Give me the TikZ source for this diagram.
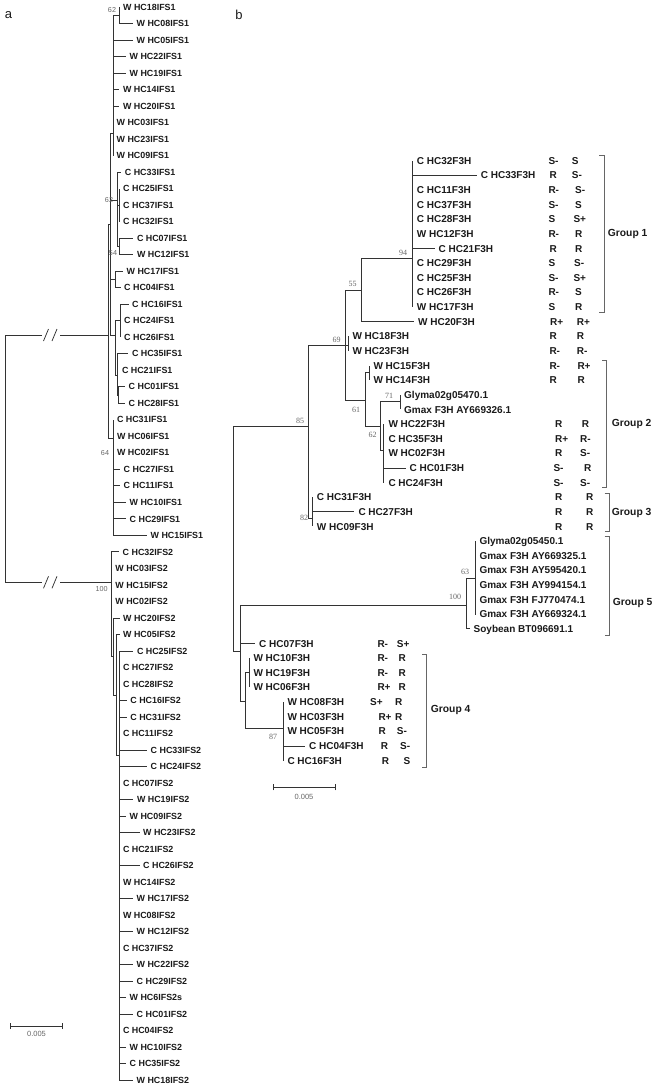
\documentclass[tikz,border=0pt]{standalone}
\usepackage{fontspec}
\setmainfont{Liberation Sans}
\newfontfamily\bsserif{Liberation Serif}
\definecolor{lncol}{HTML}{333333}
\definecolor{txcol}{HTML}{1A1A1A}
\definecolor{bkcol}{HTML}{666666}
\tikzset{
  br/.style={draw=lncol, line width=0.75pt},
  ltxt/.style={anchor=west, inner sep=0pt, text=txcol, font=\fontsize{8.9}{10}\selectfont\bfseries, text height=6.4pt, text depth=0pt},
  rtxt/.style={anchor=west, inner sep=0pt, text=txcol, font=\fontsize{10}{11}\selectfont\bfseries, text height=7.2pt, text depth=0pt},
  bsl/.style={inner sep=0pt, text=bkcol, font=\fontsize{7.2}{8}\selectfont},
  bsr/.style={inner sep=0pt, text=bkcol, font=\fontsize{8}{9}\bsserif},
  brk/.style={draw=bkcol, line width=0.75pt},
  grp/.style={anchor=west, inner sep=0pt, text=txcol, font=\fontsize{10.3}{12}\selectfont\bfseries},
  scl/.style={inner sep=0pt, text=bkcol, font=\fontsize{7.5}{9}\selectfont},
  pan/.style={inner sep=0pt, text=txcol, font=\fontsize{13}{15}\selectfont}
}
% left tip: name, parent, x end, row, text
\newcommand{\lefttip}[5]{%
  \coordinate (#1) at (#3,{7+(#4-1)*16.51});
  \draw[br] (#2) |- (#1);
  \node[ltxt] (#1l) at ([xshift=3.5pt]#1) {#5};}
% right tip: name, parent, x end, row, text
\newcommand{\righttip}[5]{%
  \coordinate (#1) at (#3,{160.7+(#4-1)*14.63});
  \draw[br] (#2) |- (#1);
  \node[rtxt] (#1l) at ([xshift=4pt]#1) {#5};}
% traits: name, row, x1, t1, x2, t2
\newcommand{\traits}[6]{%
  \node[rtxt] (#1a) at (#3,{160.7+(#2-1)*14.63}) {#4};
  \node[rtxt] (#1b) at (#5,{160.7+(#2-1)*14.63}) {#6};}
\begin{document}
\begin{tikzpicture}[x=1pt,y=-1pt]
\useasboundingbox (0,0) rectangle (657,1089);
\node[pan] (pa) at (8.5,15) {a};
\node[pan] (pb) at (239,15) {b};

% ================= LEFT TREE =================
\coordinate (LR) at (5,458);
\coordinate (L1) at (108.3,335);
\coordinate (R2) at (111.7,582.3);
\draw[br] (LR) |- (L1);
\draw[br] (LR) |- (R2);
\fill[white] (42,329) rectangle (59.5,341);
\fill[white] (42,576.3) rectangle (59.5,588.3);
\draw[br] (43.5,341) -- (48.5,329) (52,341) -- (57,329);
\draw[br] (43.5,588.3) -- (48.5,576.3) (52,588.3) -- (57,576.3);

\coordinate (U) at (110.7,224);   \draw[br] (L1) |- (U);
\coordinate (L26) at (113.3,438); \draw[br] (L1) |- (L26);
\coordinate (V) at (113,133);     \draw[br] (U) |- (V);
\coordinate (N12) at (119.5,15.3);\draw[br] (V) |- (N12);
\coordinate (C11) at (117.3,200); \draw[br] (U) |- (C11);
\coordinate (S12) at (119.5,205.1);\draw[br] (C11) |- (S12);
\coordinate (N15) at (119.5,246.4);\draw[br] (C11) |- (N15);
\coordinate (C17) at (115,279.4); \draw[br] (U) |- (C17);
\coordinate (N19b) at (115.7,335);\draw[br] (U) |- (N19b);
\coordinate (N19) at (120.5,320.7);\draw[br] (N19b) |- (N19);
\coordinate (N22) at (117.3,375); \draw[br] (N19b) |- (N22);
\coordinate (N24) at (118.3,395.6);\draw[br] (N22) |- (N24);

\lefttip{a1}{N12}{119.5}{1}{W HC18IFS1}
\lefttip{a2}{N12}{133}{2}{W HC08IFS1}
\lefttip{a3}{V}{133}{3}{W HC05IFS1}
\lefttip{a4}{V}{126}{4}{W HC22IFS1}
\lefttip{a5}{V}{126}{5}{W HC19IFS1}
\lefttip{a6}{V}{119.3}{6}{W HC14IFS1}
\lefttip{a7}{V}{119.3}{7}{W HC20IFS1}
\lefttip{a8}{V}{113}{8}{W HC03IFS1}
\lefttip{a9}{V}{113}{9}{W HC23IFS1}
\lefttip{a10}{V}{113}{10}{W HC09IFS1}
\lefttip{a11}{C11}{121.2}{11}{C HC33IFS1}
\lefttip{a12}{S12}{119.5}{12}{C HC25IFS1}
\lefttip{a13}{S12}{119.5}{13}{C HC37IFS1}
\lefttip{a14}{S12}{119.5}{14}{C HC32IFS1}
\lefttip{a15}{N15}{133.3}{15}{C HC07IFS1}
\lefttip{a16}{N15}{133.3}{16}{W HC12IFS1}
\lefttip{a17}{C17}{123}{17}{W HC17IFS1}
\lefttip{a18}{C17}{120.5}{18}{C HC04IFS1}
\lefttip{a19}{N19}{128.5}{19}{C HC16IFS1}
\lefttip{a20}{N19}{120.5}{20}{C HC24IFS1}
\lefttip{a21}{N19}{120.5}{21}{C HC26IFS1}
\lefttip{a22}{N22}{128.3}{22}{C HC35IFS1}
\lefttip{a23}{N22}{118.3}{23}{C HC21IFS1}
\lefttip{a24}{N24}{125}{24}{C HC01IFS1}
\lefttip{a25}{N24}{125}{25}{C HC28IFS1}
\lefttip{a26}{L26}{113.3}{26}{C HC31IFS1}
\lefttip{a27}{L26}{113.3}{27}{W HC06IFS1}
\lefttip{a28}{L26}{113.3}{28}{W HC02IFS1}
\lefttip{a29}{L26}{120}{29}{C HC27IFS1}
\lefttip{a30}{L26}{120}{30}{C HC11IFS1}
\lefttip{a31}{L26}{126}{31}{W HC10IFS1}
\lefttip{a32}{L26}{126}{32}{C HC29IFS1}
\lefttip{a33}{L26}{147}{33}{W HC15IFS1}

\coordinate (N38) at (113.3,656.7); \draw[br] (R2) |- (N38);
\coordinate (N39) at (116.7,695);   \draw[br] (N38) |- (N39);
\coordinate (N40) at (119.3,755);   \draw[br] (N39) |- (N40);
\lefttip{b34}{R2}{119}{34}{C HC32IFS2}
\lefttip{b35}{R2}{111.7}{35}{W HC03IFS2}
\lefttip{b36}{R2}{111.7}{36}{W HC15IFS2}
\lefttip{b37}{R2}{111.7}{37}{W HC02IFS2}
\lefttip{b38}{N38}{119.5}{38}{W HC20IFS2}
\lefttip{b39}{N39}{119.5}{39}{W HC05IFS2}
\lefttip{b40}{N40}{133.3}{40}{C HC25IFS2}
\lefttip{b41}{N40}{119.3}{41}{C HC27IFS2}
\lefttip{b42}{N40}{119.3}{42}{C HC28IFS2}
\lefttip{b43}{N40}{126.7}{43}{C HC16IFS2}
\lefttip{b44}{N40}{126.7}{44}{C HC31IFS2}
\lefttip{b45}{N40}{119.3}{45}{C HC11IFS2}
\lefttip{b46}{N40}{147}{46}{C HC33IFS2}
\lefttip{b47}{N40}{147}{47}{C HC24IFS2}
\lefttip{b48}{N40}{119.3}{48}{C HC07IFS2}
\lefttip{b49}{N40}{133.3}{49}{W HC19IFS2}
\lefttip{b50}{N40}{126}{50}{W HC09IFS2}
\lefttip{b51}{N40}{139.5}{51}{W HC23IFS2}
\lefttip{b52}{N40}{119.3}{52}{C HC21IFS2}
\lefttip{b53}{N40}{139.5}{53}{C HC26IFS2}
\lefttip{b54}{N40}{119.3}{54}{W HC14IFS2}
\lefttip{b55}{N40}{133}{55}{W HC17IFS2}
\lefttip{b56}{N40}{119.3}{56}{W HC08IFS2}
\lefttip{b57}{N40}{133}{57}{W HC12IFS2}
\lefttip{b58}{N40}{119.3}{58}{C HC37IFS2}
\lefttip{b59}{N40}{133}{59}{W HC22IFS2}
\lefttip{b60}{N40}{133}{60}{C HC29IFS2}
\lefttip{b61}{N40}{126}{61}{W HC6IFS2s}
\lefttip{b62}{N40}{133}{62}{C HC01IFS2}
\lefttip{b63}{N40}{119.3}{63}{C HC04IFS2}
\lefttip{b64}{N40}{126}{64}{W HC10IFS2}
\lefttip{b65}{N40}{126}{65}{C HC35IFS2}
\lefttip{b66}{N40}{133}{66}{W HC18IFS2}

\node[bsl] (bl1) at (112,10) {62};
\node[bsl] (bl2) at (109,200) {62};
\node[bsl] (bl3) at (113,253) {54};
\node[bsl] (bl4) at (105,452.7) {64};
\node[bsl] (bl5) at (101.7,589.3) {100};

\coordinate (sl1) at (10.7,1026); \coordinate (sl2) at (62.3,1026);
\draw[br] (sl1) -- (sl2);
\draw[br] ([yshift=-3pt]sl1) -- ([yshift=3pt]sl1) ([yshift=-3pt]sl2) -- ([yshift=3pt]sl2);
\node[scl] (sll) at (36.5,1034) {0.005};

% ================= RIGHT TREE =================
\coordinate (RR) at (233.5,540);
\coordinate (N85) at (308.3,426.7);  \draw[br] (RR) |- (N85);
\coordinate (N240) at (240,651.7);   \draw[br] (RR) |- (N240);
\coordinate (N69) at (345,345);      \draw[br] (N85) |- (N69);
\coordinate (N82) at (312.7,518.3);  \draw[br] (N85) |- (N82);
\coordinate (N55) at (361.7,290);    \draw[br] (N69) |- (N55);
\coordinate (N18) at (348.3,345);    \draw[br] (N69) |- (N18);
\coordinate (N61) at (365,400);      \draw[br] (N69) |- (N61);
\coordinate (N94) at (412.7,258.3);  \draw[br] (N55) |- (N94);
\coordinate (N15r) at (369.3,372.4); \draw[br] (N61) |- (N15r);
\coordinate (N62) at (380.7,426.7);  \draw[br] (N61) |- (N62);
\coordinate (N71) at (400,401.6);    \draw[br] (N62) |- (N71);
\coordinate (N19r) at (383.3,450);   \draw[br] (N62) |- (N19r);
\coordinate (N100) at (466,605);     \draw[br] (N240) |- (N100);
\coordinate (N63) at (475,578.3);    \draw[br] (N100) |- (N63);
\coordinate (N245) at (245,701.7);   \draw[br] (N240) |- (N245);
\coordinate (N249) at (249.3,672);   \draw[br] (N245) |- (N249);
\coordinate (N283) at (283.3,728.3); \draw[br] (N245) |- (N283);

\righttip{r1}{N94}{412.7}{1}{C HC32F3H}
\righttip{r2}{N94}{476.7}{2}{C HC33F3H}
\righttip{r3}{N94}{412.7}{3}{C HC11F3H}
\righttip{r4}{N94}{412.7}{4}{C HC37F3H}
\righttip{r5}{N94}{412.7}{5}{C HC28F3H}
\righttip{r6}{N94}{412.7}{6}{W HC12F3H}
\righttip{r7}{N94}{434.5}{7}{C HC21F3H}
\righttip{r8}{N94}{412.7}{8}{C HC29F3H}
\righttip{r9}{N94}{412.7}{9}{C HC25F3H}
\righttip{r10}{N94}{412.7}{10}{C HC26F3H}
\righttip{r11}{N94}{412.7}{11}{W HC17F3H}
\righttip{r12}{N55}{414}{12}{W HC20F3H}
\righttip{r13}{N18}{348.3}{13}{W HC18F3H}
\righttip{r14}{N18}{348.3}{14}{W HC23F3H}
\righttip{r15}{N15r}{369.3}{15}{W HC15F3H}
\righttip{r16}{N15r}{369.3}{16}{W HC14F3H}
\righttip{r17}{N71}{400}{17}{Glyma02g05470.1}
\righttip{r18}{N71}{400}{18}{Gmax F3H AY669326.1}
\righttip{r19}{N19r}{384.3}{19}{W HC22F3H}
\righttip{r20}{N19r}{384.3}{20}{C HC35F3H}
\righttip{r21}{N19r}{384.3}{21}{W HC02F3H}
\righttip{r22}{N19r}{405.5}{22}{C HC01F3H}
\righttip{r23}{N19r}{384.3}{23}{C HC24F3H}
\righttip{r24}{N82}{312.7}{24}{C HC31F3H}
\righttip{r25}{N82}{354.3}{25}{C HC27F3H}
\righttip{r26}{N82}{312.7}{26}{W HC09F3H}
\righttip{r27}{N63}{475.3}{27}{Glyma02g05450.1}
\righttip{r28}{N63}{475.3}{28}{Gmax F3H AY669325.1}
\righttip{r29}{N63}{475.3}{29}{Gmax F3H AY595420.1}
\righttip{r30}{N63}{475.3}{30}{Gmax F3H AY994154.1}
\righttip{r31}{N63}{475.3}{31}{Gmax F3H FJ770474.1}
\righttip{r32}{N63}{475.3}{32}{Gmax F3H AY669324.1}
\righttip{r33}{N100}{469.5}{33}{Soybean BT096691.1}
\righttip{r34}{N240}{255}{34}{C HC07F3H}
\righttip{r35}{N249}{249.3}{35}{W HC10F3H}
\righttip{r36}{N249}{249.3}{36}{W HC19F3H}
\righttip{r37}{N249}{249.3}{37}{W HC06F3H}
\righttip{r38}{N283}{283.3}{38}{W HC08F3H}
\righttip{r39}{N283}{283.3}{39}{W HC03F3H}
\righttip{r40}{N283}{283.3}{40}{W HC05F3H}
\righttip{r41}{N283}{305}{41}{C HC04F3H}
\righttip{r42}{N283}{283.3}{42}{C HC16F3H}

\traits{t1}{1}{548.3}{S-}{571.7}{S}
\traits{t2}{2}{549.3}{R}{571.7}{S-}
\traits{t3}{3}{548.3}{R-}{575}{S-}
\traits{t4}{4}{548.3}{S-}{575}{S}
\traits{t5}{5}{548.3}{S}{573.3}{S+}
\traits{t6}{6}{548.3}{R-}{575}{R}
\traits{t7}{7}{549.3}{R}{575}{R}
\traits{t8}{8}{548.3}{S}{574}{S-}
\traits{t9}{9}{548.3}{S-}{573.3}{S+}
\traits{t10}{10}{548.3}{R-}{575}{S}
\traits{t11}{11}{548.3}{S}{575}{R}
\traits{t12}{12}{550}{R+}{576.7}{R+}
\traits{t13}{13}{549.3}{R}{576.7}{R}
\traits{t14}{14}{549.3}{R-}{576.7}{R-}
\traits{t15}{15}{549.3}{R-}{577.3}{R+}
\traits{t16}{16}{549.3}{R}{577.3}{R}
\traits{t19}{19}{555}{R}{581.7}{R}
\traits{t20}{20}{555}{R+}{580}{R-}
\traits{t21}{21}{555}{R}{580}{S-}
\traits{t22}{22}{553.3}{S-}{584}{R}
\traits{t23}{23}{553.3}{S-}{580}{S-}
\traits{t24}{24}{555}{R}{586}{R}
\traits{t25}{25}{555}{R}{586}{R}
\traits{t26}{26}{555}{R}{586}{R}
\traits{t34}{34}{377.3}{R-}{396.7}{S+}
\traits{t35}{35}{377.3}{R-}{398.3}{R}
\traits{t36}{36}{377.3}{R-}{398.3}{R}
\traits{t37}{37}{377.3}{R+}{398.3}{R}
\traits{t38}{38}{370}{S+}{395}{R}
\traits{t39}{39}{378.3}{R+}{395}{R}
\traits{t40}{40}{378.3}{R}{396.7}{S-}
\traits{t41}{41}{380.7}{R}{400}{S-}
\traits{t42}{42}{381.7}{R}{403.3}{S}

\node[bsr] (br94) at (403,253.3) {94};
\node[bsr] (br55) at (352.5,284) {55};
\node[bsr] (br69) at (336.7,340) {69};
\node[bsr] (br85) at (300,420.7) {85};
\node[bsr] (br61) at (356,410) {61};
\node[bsr] (br71) at (389,396) {71};
\node[bsr] (br62) at (372.5,435) {62};
\node[bsr] (br82) at (304,518.3) {82};
\node[bsr] (br100) at (455,597.3) {100};
\node[bsr] (br63) at (465,571.7) {63};
\node[bsr] (br87) at (273,736.7) {87};

% group brackets
\draw[brk] (599.3,155) -- (604,155) -- (604,312.7) -- (599.3,312.7);
\node[grp] (g1) at (607.7,234) {Group 1};
\draw[brk] (602,360.7) -- (606.7,360.7) -- (606.7,487.3) -- (602,487.3);
\node[grp] (g2) at (611.7,424) {Group 2};
\draw[brk] (604.6,493.3) -- (609.3,493.3) -- (609.3,531.7) -- (604.6,531.7);
\node[grp] (g3) at (611.7,512.7) {Group 3};
\draw[brk] (604.6,536.7) -- (609.3,536.7) -- (609.3,635) -- (604.6,635);
\node[grp] (g5) at (612.7,603.3) {Group 5};
\draw[brk] (422,654) -- (426.7,654) -- (426.7,767.7) -- (422,767.7);
\node[grp] (g4) at (430.7,710) {Group 4};

\coordinate (sr1) at (273.3,787.3); \coordinate (sr2) at (335,787.3);
\draw[br] (sr1) -- (sr2);
\draw[br] ([yshift=-3pt]sr1) -- ([yshift=3pt]sr1) ([yshift=-3pt]sr2) -- ([yshift=3pt]sr2);
\node[scl] (srl) at (304,796.5) {0.005};
\end{tikzpicture}
\end{document}
